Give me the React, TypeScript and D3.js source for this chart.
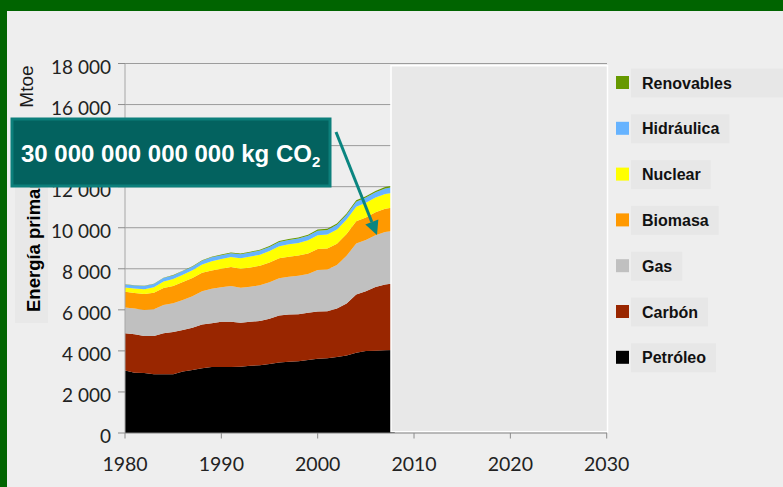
import React from 'react';
import * as d3 from 'd3';

const years = [1980, 1981, 1982, 1983, 1984, 1985, 1986, 1987, 1988, 1989, 1990, 1991, 1992, 1993, 1994, 1995, 1996, 1997, 1998, 1999, 2000, 2001, 2002, 2003, 2004, 2005, 2006, 2007, 2008];
const petroleo = [3040, 2940, 2920, 2860, 2860, 2860, 2990, 3070, 3150, 3210, 3215, 3215, 3230, 3280, 3300, 3360, 3430, 3475, 3490, 3560, 3620, 3640, 3700, 3780, 3910, 3990, 4010, 4030, 4040];
const carbon = [1820, 1870, 1800, 1870, 2000, 2060, 2030, 2060, 2130, 2140, 2210, 2210, 2140, 2140, 2160, 2210, 2290, 2300, 2300, 2300, 2300, 2290, 2370, 2530, 2840, 2910, 3100, 3210, 3250];
const gas = [1250, 1250, 1266, 1299, 1380, 1396, 1461, 1526, 1624, 1672, 1672, 1737, 1705, 1705, 1737, 1770, 1819, 1835, 1868, 1884, 2020, 2030, 2110, 2330, 2485, 2499, 2518, 2548, 2560];
const biomasa = [770, 760, 780, 800, 820, 850, 870, 890, 900, 900, 910, 920, 930, 940, 950, 960, 970, 980, 990, 1000, 1020, 1030, 1040, 1060, 1080, 1100, 1120, 1140, 1150];
const nuclear = [210, 220, 240, 270, 320, 340, 360, 380, 410, 450, 470, 490, 510, 530, 540, 560, 590, 600, 610, 640, 670, 680, 690, 700, 710, 720, 720, 720, 720];
const hidraulica = [150, 150, 155, 160, 165, 170, 175, 175, 180, 185, 185, 190, 195, 200, 200, 205, 210, 215, 220, 220, 225, 225, 230, 235, 245, 250, 255, 265, 270];
const renovables = [10, 10, 12, 14, 16, 18, 20, 22, 25, 28, 30, 32, 35, 38, 40, 42, 45, 48, 50, 52, 55, 57, 60, 63, 66, 70, 72, 75, 78];

const seriesNames = ['Petróleo', 'Carbón', 'Gas', 'Biomasa', 'Nuclear', 'Hidráulica', 'Renovables'];
const seriesValues = [petroleo, carbon, gas, biomasa, nuclear, hidraulica, renovables];
const seriesColors = ['#000000', '#992600', '#c0c0c0', '#ff9900', '#ffff00', '#66b3ff', '#669900'];

const yTicks = [0, 2000, 4000, 6000, 8000, 10000, 12000, 14000, 16000, 18000];
const xTicks = [1980, 1990, 2000, 2010, 2020, 2030];

const calloutText = '30 000 000 000 000 kg CO';
const calloutSub = '2';
const unitLabel = 'Mtoe';
const yTitle = 'Energía primaria';

const fmt = (v: number) => {
  const s = String(v);
  return s.length > 3 ? s.slice(0, s.length - 3) + ' ' + s.slice(-3) : s;
};

function measure(text: string, font: string) {
  if (typeof document === 'undefined') return text.length * 9;
  const c = document.createElement('canvas').getContext('2d');
  if (!c) return text.length * 9;
  c.font = font;
  return c.measureText(text).width;
}

export default function App() {
  const W = 783, H = 487;
  const x = d3.scaleLinear().domain([1980, 2030]).range([125, 606.7]);
  const y = d3.scaleLinear().domain([0, 18000]).range([433, 63.5]);

  const table = years.map((yr, i) => {
    const row: any = { year: yr };
    seriesNames.forEach((n, k) => { row[n] = seriesValues[k][i]; });
    return row;
  });
  const stacked = d3.stack<any>().keys(seriesNames)(table);
  const area = d3.area<any>()
    .x((d: any) => x(d.data.year))
    .y0((d: any) => y(d[0]))
    .y1((d: any) => y(d[1]))
    .curve(d3.curveLinear);

  const tickFont = 'Lato, sans-serif';
  const boldFont = '"Liberation Sans", Arial, sans-serif';

  // arrow geometry
  const a0 = [336, 132], a1 = [377, 235];
  const dx = a1[0] - a0[0], dy = a1[1] - a0[1];
  const len = Math.hypot(dx, dy);
  const ux = dx / len, uy = dy / len;
  const headL = 14, headW = 7;
  const bx = a1[0] - ux * headL, by = a1[1] - uy * headL;
  const head = [
    [a1[0], a1[1]],
    [bx - uy * headW, by + ux * headW],
    [bx + uy * headW, by - ux * headW],
  ].map(p => p.join(',')).join(' ');

  const legendItems = seriesNames.map((n, i) => ({ name: n, color: seriesColors[i] })).reverse();
  const legendY0 = 82.5, legendStep = 45.8;

  return (
    <svg width={W} height={H} style={{ position: 'absolute', left: 0, top: 0, display: 'block' }}>
      <rect x={0} y={0} width={W} height={H} fill="#eeeeee" />
      <rect x={0} y={0} width={W} height={11} fill="#006400" />
      <rect x={0} y={0} width={7} height={H} fill="#006400" />

      {/* grid */}
      {yTicks.filter(t => t > 0).map(t => (
        <line key={'g' + t} x1={125} x2={607} y1={y(t)} y2={y(t)} stroke="#9c9c9c" strokeWidth={1} />
      ))}

      {/* areas */}
      {stacked.map((s, i) => (
        <path key={s.key} d={area(s as any) || ''} fill={seriesColors[i]} stroke="none" />
      ))}

      {/* grey cover box */}
      <rect x={391} y={65.7} width={216.5} height={366} fill="#e8e8e8" stroke="#ffffff" strokeWidth={1.5} />

      {/* axes */}
      <line x1={125} x2={125} y1={63.5} y2={433} stroke="#a6a6a6" strokeWidth={1} />
      {yTicks.map(t => (
        <line key={'yt' + t} x1={118} x2={125} y1={y(t)} y2={y(t)} stroke="#8c8c8c" strokeWidth={1} />
      ))}
      <line x1={125} x2={607} y1={433} y2={433} stroke="#808080" strokeWidth={1} />
      {xTicks.map(t => (
        <line key={'xt' + t} x1={x(t)} x2={x(t)} y1={433} y2={438.5} stroke="#8c8c8c" strokeWidth={1} />
      ))}

      {yTicks.map(t => (
        <text key={'yl' + t} x={111} y={y(t) + 10} textAnchor="end" fontFamily={tickFont} fontSize={19} fill="#222">{fmt(t)}</text>
      ))}
      {xTicks.map(t => (
        <text key={'xl' + t} x={x(t)} y={471} textAnchor="middle" fontFamily={tickFont} fontSize={19.5} fill="#222">{t}</text>
      ))}

      {/* axis titles */}
      <text transform="translate(33,86.5) rotate(-90)" textAnchor="middle" fontFamily={boldFont} fontSize={19} fill="#1a1a1a">{unitLabel}</text>
      <rect x={15} y={165} width={33} height={158} fill="#e8e8e8" />
      <text transform="translate(39.5,312) rotate(-90)" textAnchor="start" fontFamily={boldFont} fontWeight="bold" fontSize={18.5} fill="#000">{yTitle}</text>

      {/* callout */}
      <rect x={12} y={119} width={318} height={67} fill="#03625f" stroke="#0c7f7b" strokeWidth={3} />
      <text x={21} y={162} fontFamily={boldFont} fontWeight="bold" fontSize={24} fill="#ffffff">
        {calloutText}
        <tspan fontSize={15} dy={5}>{calloutSub}</tspan>
      </text>
      <line x1={a0[0]} y1={a0[1]} x2={bx} y2={by} stroke="#0a8580" strokeWidth={3} />
      <polygon points={head} fill="#0a8580" />

      {/* legend */}
      {legendItems.map((it, i) => {
        const cy = legendY0 + i * legendStep;
        const tw = measure(it.name, `bold 16px ${boldFont}`);
        const bgW = i === 0 ? W - 631 : tw + 21;
        return (
          <g key={it.name}>
            <rect x={631} y={cy - 14} width={bgW} height={29} fill="#e7e7e7" />
            <rect x={616} y={cy - 6.5} width={13} height={13} fill={it.color} />
            <text x={642} y={cy + 6} fontFamily={boldFont} fontWeight="bold" fontSize={16} fill="#111">{it.name}</text>
          </g>
        );
      })}
    </svg>
  );
}
